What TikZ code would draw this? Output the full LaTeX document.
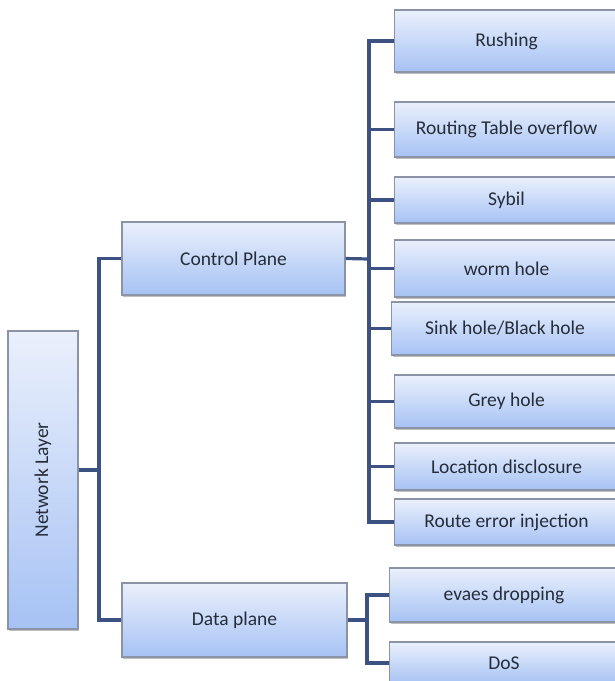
\documentclass[tikz,border=0pt]{standalone}
\usepackage{fontspec}
\setmainfont{Carlito}
\usetikzlibrary{shadows}
\definecolor{boxtop}{HTML}{EAF0FC}
\definecolor{boxbot}{HTML}{A6C2F4}
\definecolor{boxrim}{HTML}{8A94A6}
\definecolor{linkblue}{HTML}{3B5282}
\definecolor{inktext}{HTML}{262D3A}
\newcommand*{\boxfont}{\fontsize{19.5}{22}\selectfont\color{inktext}}
\tikzset{
  box/.style = {draw = boxrim, line width = 1.1pt, top color = boxtop,
    bottom color = boxbot, inner sep = 0pt, font = \boxfont,
    drop shadow = {shadow xshift = 1pt, shadow yshift = -2pt,
      fill = black, opacity = 0.25}},
  link/.style = {draw = linkblue, line width = 3.2pt}
}
\newcommand{\attackbox}[5]{%
% node name, left edge, top edge, bottom edge, text
  \pgfmathsetmacro{\bw}{618-#2}
  \pgfmathsetmacro{\bh}{#4-#3}
  \pgfmathsetmacro{\bmid}{(#3+#4)/2}
  \node[box, anchor = west, minimum width = \bw pt,
    minimum height = \bh pt] (#1) at (#2,\bmid) {#5};
}

\begin{document}
\begin{tikzpicture}[x = 1pt, y = -1pt]
  \fill[white] (0,0) rectangle (615,681);
  \useasboundingbox (0,0) rectangle (615,681);
  \clip (0,0) rectangle (615,681);

  % layer and the two planes
  \node[box, minimum width = 70pt, minimum height = 298pt] (net) at (43,480)
    {\rotatebox{90}{Network Layer}};
  \node[box, minimum width = 223pt, minimum height = 73pt] (ctrl) at (233.5,258.5)
    {Control Plane};
  \node[box, minimum width = 225pt, minimum height = 74pt] (data) at (234.5,620)
    {Data plane};

  % control plane attacks
  \attackbox{rush}{394}{10}{72}{Rushing}
  \attackbox{rtov}{394}{102}{157}{Routing Table overflow}
  \attackbox{sybil}{394}{177}{223}{Sybil}
  \attackbox{worm}{394}{240}{297}{worm hole}
  \attackbox{sink}{391}{302}{355}{Sink hole/Black hole}
  \attackbox{grey}{394}{375}{428}{Grey hole}
  \attackbox{locd}{394}{443}{490}{Location disclosure}
  \attackbox{rerr}{394}{499}{545}{Route error injection}

  % data plane attacks
  \attackbox{evdr}{389}{568}{622}{evaes dropping}
  \attackbox{dos}{389}{642}{684}{DoS}

  % left bus
  \coordinate (lbus) at (99,470);
  \draw[link] (net.east |- lbus) -- (lbus);
  \draw[link] (ctrl.west) -| (lbus) |- (data.west);

  % control plane bus
  \coordinate (cbus) at (369,259);
  \draw[link] (ctrl.east) -- (cbus);
  \draw[link] (rush.west) -| (cbus) |- (rerr.west);
  \foreach \n in {rtov,sybil,worm,sink,grey,locd} {
    \draw[link] (cbus |- \n.west) -- (\n.west);
  }

  % data plane bus
  \coordinate (dbus) at (367,620);
  \draw[link] (data.east) -- (dbus);
  \draw[link] (evdr.west) -| (dbus) |- (dos.west);
\end{tikzpicture}
\end{document}
